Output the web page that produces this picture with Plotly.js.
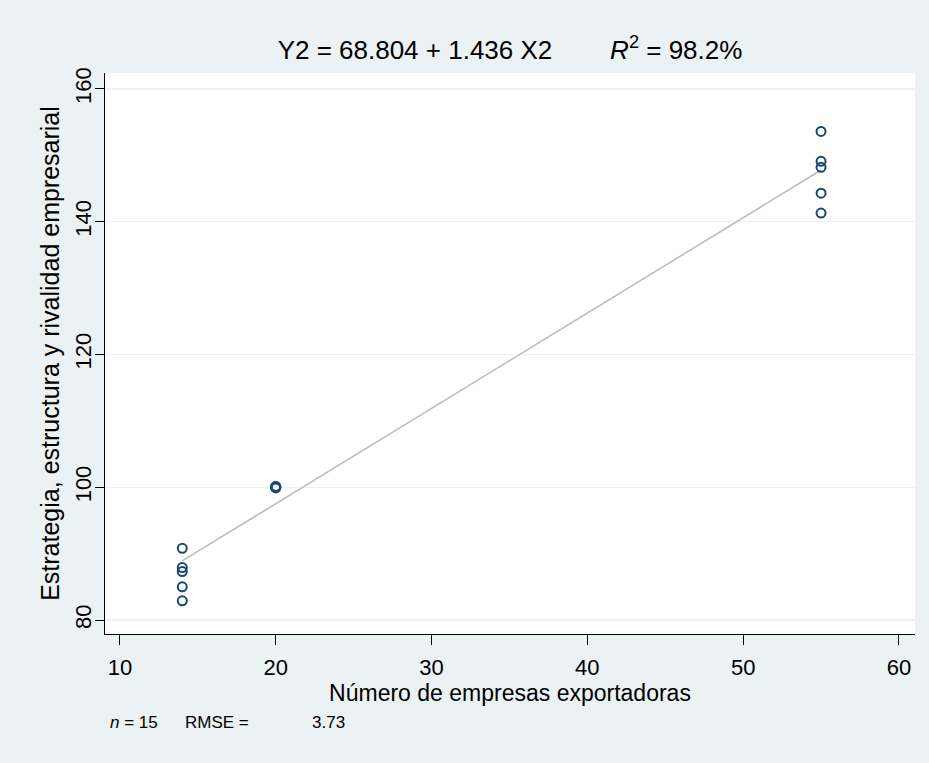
<!DOCTYPE html>
<html>
<head>
<meta charset="utf-8">
<script src="https://cdn.plot.ly/plotly-3.0.1.min.js"></script>
<style>html,body{margin:0;padding:0;background:#EAF2F3;}#chart{width:929px;height:763px;}</style>
</head>
<body>
<div id="chart"></div>
<script>
// Data
const xValues = [14, 14, 14, 14, 14, 20, 20, 20, 20, 20, 55, 55, 55, 55, 55];
const yValues = [90.8, 87.9, 87.3, 85.0, 82.9, 100.1, 100.0, 99.9, 100.0, 100.1, 153.6, 149.1, 148.2, 144.3, 141.3];
const intercept = 68.804;
const slope = 1.436;
const fitX = [14, 55];
const fitY = fitX.map(x => intercept + slope * x);
const xTicks = [10, 20, 30, 40, 50, 60];
const yTicks = [80, 100, 120, 140, 160];

const font = "Liberation Sans, Arial, sans-serif";
const sp = n => '&nbsp;'.repeat(n);

const traces = [
  {
    x: fitX, y: fitY, type: 'scatter', mode: 'lines',
    line: {color: '#BDBDBD', width: 1.6}, hoverinfo: 'skip', showlegend: false
  },
  {
    x: xValues, y: yValues, type: 'scatter', mode: 'markers',
    marker: {symbol: 'circle-open', size: 9, color: '#1A476F', line: {width: 2, color: '#1A476F'}},
    showlegend: false
  }
];

const footFont = {family: font, size: 17, color: '#000'};

const layout = {
  width: 929, height: 763,
  margin: {l: 105, r: 14, t: 73, b: 129},
  paper_bgcolor: '#EAF2F3',
  plot_bgcolor: '#FFFFFF',
  font: {family: font, color: '#000', size: 22},
  title: {
    text: 'Y2 = 68.804 + 1.436 X2' + sp(8) + '<i>R</i><sup>2</sup> = 98.2%',
    font: {family: font, size: 26, color: '#000'},
    x: 0.5, xref: 'paper', xanchor: 'center', y: 0.935, yref: 'container', yanchor: 'middle'
  },
  xaxis: {
    range: [9.04, 61.03],
    tickvals: xTicks,
    ticktext: xTicks.map(String),
    ticks: 'outside', ticklen: 10, tickwidth: 1, tickcolor: '#000',
    ticklabelstandoff: 4,
    showline: true, linecolor: '#000', linewidth: 1,
    showgrid: false, zeroline: false,
    tickfont: {family: font, size: 22},
    title: {text: 'Número de empresas exportadoras', font: {family: font, size: 23}, standoff: 2}
  },
  yaxis: {
    range: [77.9, 162.4],
    tickvals: yTicks,
    ticktext: yTicks.map(String),
    tickangle: -90,
    ticks: 'outside', ticklen: 9, tickwidth: 1, tickcolor: '#000',
    ticklabelstandoff: -5,
    showline: true, linecolor: '#000', linewidth: 1,
    showgrid: true, gridcolor: '#EAF2F3', gridwidth: 1.5,
    zeroline: false,
    tickfont: {family: font, size: 22},
    title: {text: 'Estrategia, estructura y rivalidad empresarial', font: {family: font, size: 25}, standoff: 4}
  },
  annotations: [
    {
      text: '<i>n</i> = 15',
      xref: 'paper', yref: 'paper', x: 0.004, y: -0.158,
      xanchor: 'left', yanchor: 'middle', showarrow: false, font: footFont
    },
    {
      text: 'RMSE =',
      xref: 'paper', yref: 'paper', x: (183 - 105) / 810, y: -0.158,
      xanchor: 'left', yanchor: 'middle', showarrow: false, font: footFont
    },
    {
      text: '3.73',
      xref: 'paper', yref: 'paper', x: (310 - 105) / 810, y: -0.158,
      xanchor: 'left', yanchor: 'middle', showarrow: false, font: footFont
    }
  ]
};

Plotly.newPlot('chart', traces, layout, {displayModeBar: false, staticPlot: true});
</script>
</body>
</html>
